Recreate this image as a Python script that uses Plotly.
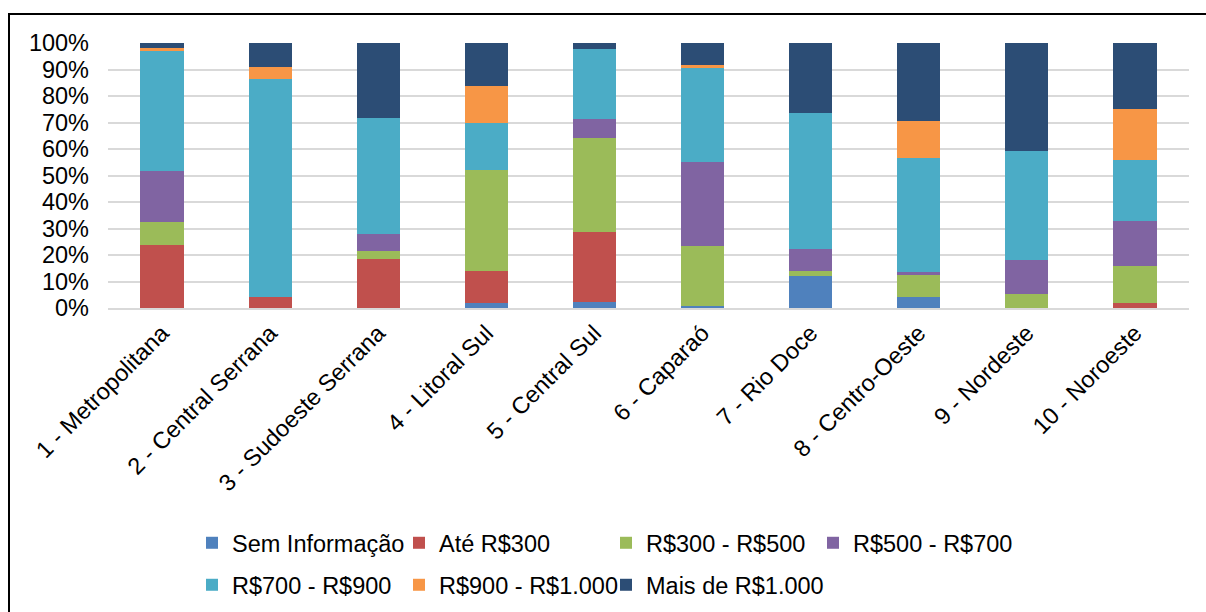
import plotly.graph_objects as go

regions = [
    "1 - Metropolitana", "2 - Central Serrana", "3 - Sudoeste Serrana",
    "4 - Litoral Sul", "5 - Central Sul", "6 - Caparaó", "7 - Rio Doce",
    "8 - Centro-Oeste", "9 - Nordeste", "10 - Noroeste",
]

# Share of households (%) per income bracket, one list per bracket
sem_informacao = [0.0, 0.0, 0.0, 1.9, 2.1, 0.9, 11.9, 4.0, 0.0, 0.0]
ate_300 = [23.7, 4.3, 18.4, 12.0, 26.4, 0.0, 0.0, 0.0, 0.0, 1.8]
r300_500 = [8.8, 0.0, 3.2, 38.0, 35.7, 22.4, 2.2, 8.3, 5.3, 14.1]
r500_700 = [19.2, 0.0, 6.3, 0.0, 7.1, 31.9, 8.0, 1.4, 13.0, 17.1]
r700_900 = [45.3, 82.0, 43.9, 17.9, 26.3, 35.4, 51.3, 43.0, 40.9, 22.7]
r900_1000 = [1.0, 4.5, 0.0, 14.1, 0.0, 1.2, 0.0, 13.9, 0.0, 19.5]
mais_1000 = [2.0, 9.2, 28.2, 16.1, 2.4, 8.2, 26.6, 29.4, 40.8, 24.8]

series_names = [
    "Sem Informação", "Até R$300", "R$300 - R$500", "R$500 - R$700",
    "R$700 - R$900", "R$900 - R$1.000", "Mais de R$1.000",
]
series_values = [
    sem_informacao, ate_300, r300_500, r500_700, r700_900, r900_1000, mais_1000,
]
series_colors = [
    "#4F81BD", "#C0504D", "#9BBB59", "#8064A2", "#4BACC6", "#F79646", "#2C4D75",
]

FONT = "Liberation Sans, Arial, sans-serif"
FS = 23.5

W, H = 1206, 612
L, R, T, B = 108, 17, 43, 304
pw = W - L - R
ph = H - T - B


def px_x(p):
    return (p - L) / pw


def px_y(p):
    return (H - B - p) / ph


# Legend grid: two rows, four columns (pixel positions of each swatch)
legend_cols = [207, 414, 621, 828]
legend_rows = [543, 585]

fig = go.Figure()
layout_legends = {}
for i, (name, values, color) in enumerate(zip(series_names, series_values, series_colors)):
    key = "legend" if i == 0 else f"legend{i + 1}"
    fig.add_trace(go.Bar(
        x=regions,
        y=[v / 100 for v in values],
        name=name,
        marker=dict(color=color, line=dict(width=0)),
        legend=key,
        showlegend=True,
    ))
    row, col = divmod(i, 4)
    layout_legends[key] = dict(
        orientation="h",
        xanchor="left",
        yanchor="middle",
        x=px_x(legend_cols[col] - 15),
        y=px_y(legend_rows[row]),
        font=dict(family=FONT, size=FS, color="#000000"),
        bgcolor="rgba(0,0,0,0)",
        itemclick=False,
    )

fig.update_layout(
    width=W,
    height=H,
    margin=dict(l=L, r=R, t=T, b=B, autoexpand=False),
    showlegend=True,
    barmode="stack",
    bargap=0.6,
    plot_bgcolor="white",
    paper_bgcolor="white",
    font=dict(family=FONT, size=FS, color="#000000"),
    xaxis=dict(
        tickangle=-45,
        showgrid=False,
        showline=True,
        linecolor="#D9D9D9",
        linewidth=2,
        ticks="",
        tickfont=dict(family=FONT, size=FS, color="#000000"),
    ),
    yaxis=dict(
        range=[0, 1],
        tickvals=[i / 10 for i in range(11)],
        tickformat=".0%",
        showgrid=True,
        gridcolor="#D9D9D9",
        gridwidth=2,
        zeroline=False,
        ticks="",
        ticklabelstandoff=18,
        tickfont=dict(family=FONT, size=FS, color="#000000"),
    ),
    shapes=[
        dict(
            type="rect",
            xref="paper", yref="paper",
            x0=px_x(9), x1=px_x(1215),
            y0=px_y(630), y1=px_y(14),
            line=dict(color="#000000", width=2),
            fillcolor="rgba(0,0,0,0)",
            layer="below",
        )
    ],
    **layout_legends,
)

fig.write_html("out.html")
